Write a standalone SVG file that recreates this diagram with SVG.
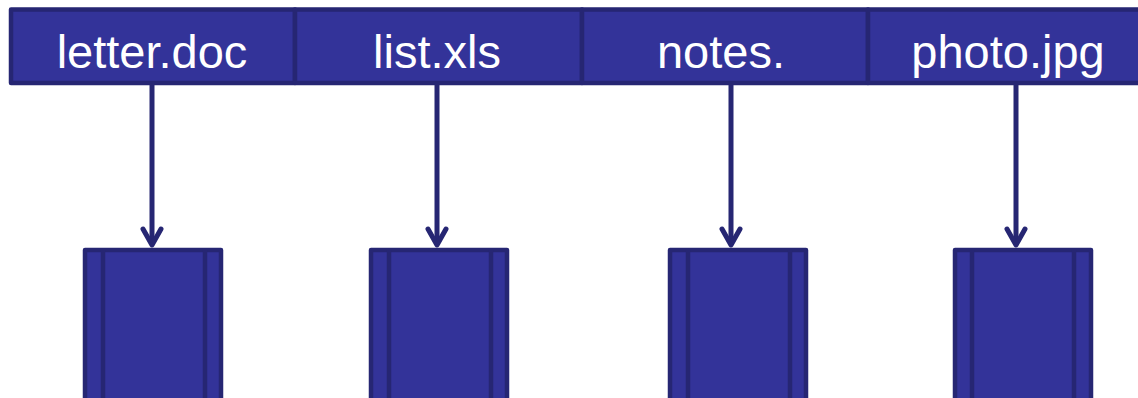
<svg xmlns="http://www.w3.org/2000/svg" width="1138" height="398" viewBox="0 0 1138 398">
  <style>
    .cell { fill: #333399; stroke: #262673; stroke-width: 4.5; stroke-linejoin: round; }
    .label { fill: #ffffff; font-family: "Liberation Sans", Arial, sans-serif; font-size: 47px; text-anchor: middle; }
    .block { fill: #333399; stroke: #262673; stroke-width: 4.5; stroke-linejoin: round; }
    .rib { stroke: #262673; stroke-width: 4.5; }
    .link { stroke: #262673; stroke-width: 5; fill: none; marker-end: url(#head); }
  </style>
  <defs>
    <marker id="head" viewBox="0 0 24 24" refX="20" refY="12" markerWidth="24" markerHeight="24" markerUnits="userSpaceOnUse" orient="auto">
      <path d="M 4 3 L 20 12 L 4 21" fill="none" stroke="#262673" stroke-width="5" stroke-linecap="round" stroke-linejoin="round"/>
    </marker>
  </defs>

  <!-- directory entries -->
  <g id="entry-letter">
    <rect class="cell" x="11" y="9.5" width="284" height="73.5"/>
    <text class="label" x="152" y="68">letter.doc</text>
  </g>
  <g id="entry-list">
    <rect class="cell" x="295" y="9.5" width="287" height="73.5"/>
    <text class="label" x="437" y="68">list.xls</text>
  </g>
  <g id="entry-notes">
    <rect class="cell" x="582" y="9.5" width="286" height="73.5"/>
    <text class="label" x="721" y="68">notes.</text>
  </g>
  <g id="entry-photo">
    <rect class="cell" x="868" y="9.5" width="290" height="73.5"/>
    <text class="label" x="1008" y="68">photo.jpg</text>
  </g>

  <!-- pointers from entries to data blocks -->
  <g id="connectors">
    <line class="link" x1="152" y1="85" x2="152" y2="245"/>
    <line class="link" x1="437" y1="85" x2="437" y2="245"/>
    <line class="link" x1="731" y1="85" x2="731" y2="245"/>
    <line class="link" x1="1016" y1="85" x2="1016" y2="245"/>
  </g>

  <!-- data blocks -->
  <g id="block-letter">
    <rect class="block" x="85" y="250" width="136" height="160"/>
    <line class="rib" x1="103" y1="250" x2="103" y2="400"/>
    <line class="rib" x1="205" y1="250" x2="205" y2="400"/>
  </g>
  <g id="block-list">
    <rect class="block" x="371" y="250" width="136" height="160"/>
    <line class="rib" x1="389" y1="250" x2="389" y2="400"/>
    <line class="rib" x1="491" y1="250" x2="491" y2="400"/>
  </g>
  <g id="block-notes">
    <rect class="block" x="670" y="250" width="136" height="160"/>
    <line class="rib" x1="688" y1="250" x2="688" y2="400"/>
    <line class="rib" x1="790" y1="250" x2="790" y2="400"/>
  </g>
  <g id="block-photo">
    <rect class="block" x="955" y="250" width="136" height="160"/>
    <line class="rib" x1="972" y1="250" x2="972" y2="400"/>
    <line class="rib" x1="1074" y1="250" x2="1074" y2="400"/>
  </g>
</svg>
